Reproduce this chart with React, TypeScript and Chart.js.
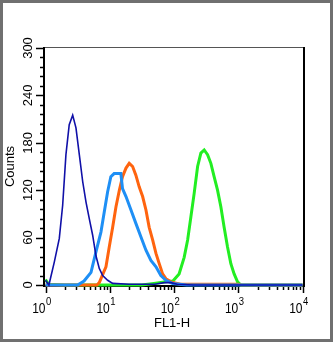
import React, { useEffect, useRef } from "react";
import { Chart, registerables } from "chart.js";

Chart.register(...registerables);

// ---- data (x = FL1-H fluorescence, y = counts) ----
const navyX = [1.0, 1.13, 1.37, 1.64, 1.85, 2.08, 2.34, 2.65, 2.98, 3.36, 3.79, 4.27, 4.8, 5.42, 6.1, 6.87, 7.76, 9.27, 11.1, 20, 50, 71, 89, 112, 200, 10000];
const navyY = [6, 0, 29, 59, 101, 165, 203, 215, 199, 165, 131, 105, 84, 63, 37, 21, 12, 6, 2, 1, 1, 3, 3, 1, 0, 0];

const blueX = [1, 3.16, 3.98, 5.11, 6.1, 7.29, 8.2, 9.27, 10.4, 11.7, 13.2, 14.9, 15.8, 17.9, 21.4, 25.5, 30.5, 36.6, 43.7, 52.4, 62.5, 74.8, 95.1, 158, 10000];
const blueY = [0, 0, 5, 16, 42, 67, 92, 118, 137, 141, 141, 141, 122, 112, 95, 78, 61, 44, 31, 23, 12, 6, 2, 0, 0];

const orangeX = [1, 6.31, 6.87, 8.73, 9.82, 11.1, 12.5, 14.1, 15.8, 17.9, 20.1, 22.7, 25.5, 28.8, 32.5, 36.6, 41.1, 46.5, 52.4, 58.9, 66.5, 74.8, 89.5, 126, 1000, 1122, 10000];
const orangeY = [0, 0, 3, 23, 48, 73, 99, 120, 137, 148, 154, 150, 139, 124, 112, 95, 73, 57, 40, 27, 14, 8, 4, 1, 1, 0, 0];

const greenX = [1, 1.12, 2, 31.6, 48.6, 74.8, 96.2, 120, 144, 163, 183, 206, 233, 262, 295, 333, 375, 422, 476, 536, 603, 681, 767, 863, 975, 1096, 10000];
const greenY = [7, 1, 0, 0, 2, 4, 5, 14, 35, 57, 86, 116, 150, 167, 171, 165, 154, 137, 120, 99, 73, 48, 27, 14, 4, 0, 0];

const yTicks = [0, 60, 120, 180, 240, 300];
const xExponents = [0, 1, 2, 3, 4];
const xTitle = "FL1-H";
const yTitle = "Counts";

const FONT = "'Liberation Sans', Arial, Helvetica, sans-serif";

function pts(xs: number[], ys: number[]) {
  return xs.map((x, i) => ({ x, y: ys[i] }));
}

const framePlugin = {
  id: "frame",
  beforeDatasetsDraw(chart: any) {
    const ctx = chart.ctx as CanvasRenderingContext2D;
    const xs = chart.scales.x;
    const ys = chart.scales.y;
    const W = chart.width;
    const H = chart.height;
    ctx.save();
    // outer border
    ctx.strokeStyle = "#707070";
    ctx.lineWidth = 3;
    ctx.strokeRect(1.5, 1.5, W - 3, H - 3);

    const left = 44;
    const right = 304;
    const top = 47;
    const bottom = 286;

    // top border (thin gray)
    ctx.strokeStyle = "#555";
    ctx.lineWidth = 1.2;
    ctx.beginPath();
    ctx.moveTo(left, top + 0.5);
    ctx.lineTo(right, top + 0.5);
    ctx.stroke();

    // left, right, bottom (black)
    ctx.strokeStyle = "#000";
    ctx.lineWidth = 2;
    ctx.beginPath();
    ctx.moveTo(left, top);
    ctx.lineTo(left, bottom + 1);
    ctx.moveTo(right, top);
    ctx.lineTo(right, bottom + 1);
    ctx.moveTo(left - 1, bottom);
    ctx.lineTo(right + 1, bottom);
    ctx.stroke();

    // y ticks
    ctx.lineWidth = 1.5;
    for (let v = 0; v <= 300; v += 12) {
      const py = Math.round(ys.getPixelForValue(v)) + 0.5;
      const major = v % 60 === 0;
      ctx.beginPath();
      ctx.moveTo(left - (major ? 8 : 4), py);
      ctx.lineTo(left, py);
      ctx.stroke();
    }
    // x ticks
    for (let e = 0; e <= 4; e++) {
      for (let m = 1; m <= 9; m++) {
        if (e === 4 && m > 1) break;
        const px = Math.round(xs.getPixelForValue(m * Math.pow(10, e))) + 0.5;
        const major = m === 1;
        ctx.beginPath();
        ctx.moveTo(px, bottom);
        ctx.lineTo(px, bottom + (major ? 7 : 4));
        ctx.stroke();
      }
    }

    ctx.fillStyle = "#000";
    // y tick labels (rotated)
    ctx.font = `13px ${FONT}`;
    ctx.textAlign = "center";
    ctx.textBaseline = "alphabetic";
    for (const v of yTicks) {
      const py = ys.getPixelForValue(v);
      ctx.save();
      ctx.translate(32, py);
      ctx.rotate(-Math.PI / 2);
      ctx.fillText(String(v), 0, 0);
      ctx.restore();
    }
    // x tick labels 10^n (slightly tall glyphs)
    for (const e of xExponents) {
      const px = xs.getPixelForValue(Math.pow(10, e));
      ctx.save();
      ctx.translate(px, 312.5);
      ctx.scale(1, 1.15);
      ctx.font = `12px ${FONT}`;
      ctx.textAlign = "right";
      ctx.fillText("10", 0, 0);
      ctx.font = `9.5px ${FONT}`;
      ctx.textAlign = "left";
      ctx.fillText(String(e), 0.5, -6.5);
      ctx.restore();
    }
    // titles
    ctx.font = `13px ${FONT}`;
    ctx.textAlign = "center";
    ctx.fillText(xTitle, 172, 327);
    ctx.save();
    ctx.translate(14, (top + bottom) / 2);
    ctx.rotate(-Math.PI / 2);
    ctx.fillText(yTitle, 0, 0);
    ctx.restore();

    ctx.restore();
  },
};

export default function App() {
  const ref = useRef<HTMLCanvasElement | null>(null);
  useEffect(() => {
    if (!ref.current) return;
    const common = { pointRadius: 0, fill: false, tension: 0, clip: { left: 1, right: 1, top: 5, bottom: 3 } as any };
    const chart = new Chart(ref.current, {
      type: "line",
      data: {
        datasets: [
          { ...common, data: pts(navyX, navyY), borderColor: "#1010a8", borderWidth: 1.6 },
          { ...common, data: pts(blueX, blueY), borderColor: "#1e8ff5", borderWidth: 3 },
          { ...common, data: pts(orangeX, orangeY), borderColor: "#ff640f", borderWidth: 3 },
          { ...common, data: pts(greenX, greenY), borderColor: "#22ee22", borderWidth: 3 },
        ] as any,
      },
      options: {
        animation: false,
        responsive: false,
        devicePixelRatio: 1,
        layout: { padding: { left: 45.5, right: 30.5, top: 48, bottom: 57 } },
        plugins: { legend: { display: false }, tooltip: { enabled: false } },
        scales: {
          x: { type: "logarithmic", min: 1, max: 10000, display: false },
          y: { type: "linear", min: 0, max: 300, display: false },
        },
      },
      plugins: [framePlugin],
    });
    return () => chart.destroy();
  }, []);
  return (
    <div style={{ position: "fixed", left: 0, top: 0, width: 333, height: 342, background: "#fff" }}>
      <canvas ref={ref} width={333} height={342} style={{ display: "block" }} />
    </div>
  );
}
